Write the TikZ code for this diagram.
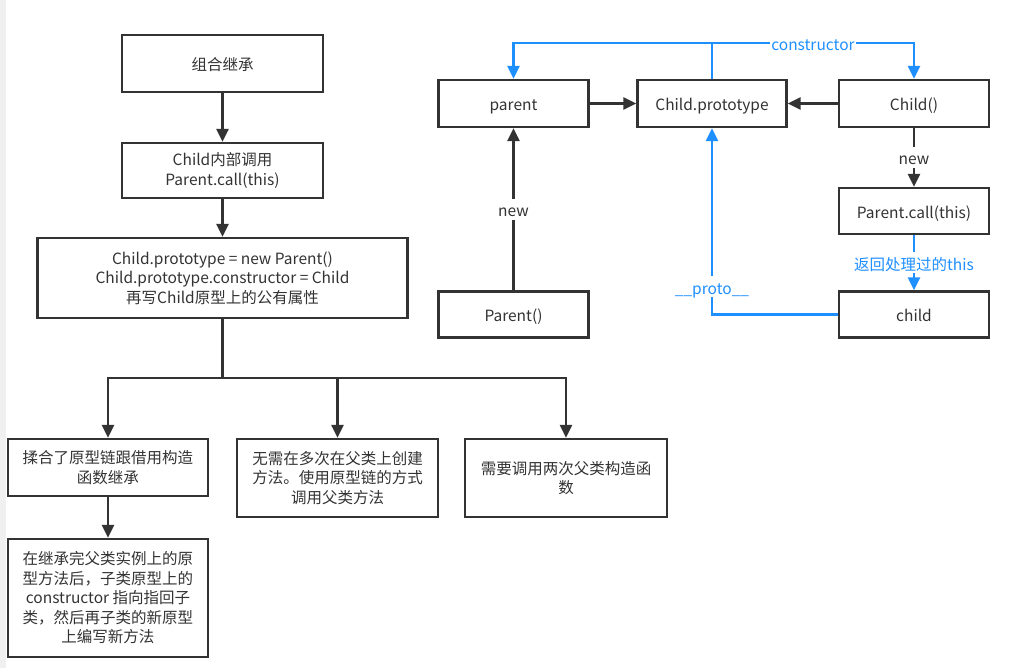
\documentclass[tikz,border=0pt]{standalone}
\usepackage{fontspec}
\setmainfont{Noto Sans CJK SC}
\usetikzlibrary{arrows.meta}
\definecolor{ink}{HTML}{333333}
\definecolor{link}{HTML}{1E8FFF}
\definecolor{sidebar}{HTML}{F0F0F0}
\begin{document}
\begin{tikzpicture}[x=1pt,y=-1pt,
  box/.style={draw=ink, line width=2.3pt, text=ink, inner sep=0pt, align=center,
    font=\fontsize{15.5}{19.5}\selectfont},
  oneline/.style={text height=17pt, text depth=2pt},
  ln/.style={draw=ink, line width=2.3pt},
  arr/.style={ln, -{Triangle[length=13pt,width=12pt]}},
  barr/.style={draw=link, line width=2.3pt, -{Triangle[length=13pt,width=12pt]}},
  bln/.style={draw=link, line width=2.3pt},
  lbl/.style={fill=white, text=ink, inner sep=1pt, oneline, font=\fontsize{15.5}{17}\selectfont},
  blbl/.style={fill=white, text=link, inner sep=1pt, oneline, font=\fontsize{15.5}{17}\selectfont},
]
\useasboundingbox (0,0) rectangle (1018,668);
\fill[sidebar] (0,0) rectangle (6,668);

% left flow
\node[box, oneline, minimum width=201pt, minimum height=57pt] (n1) at (222.5,63.5) {组合继承};
\node[box, minimum width=201pt, minimum height=55pt] (n2) at (222.5,170.5) {Child内部调用\\Parent.call(this)};
\node[box, minimum width=370pt, minimum height=80pt] (n3) at (222.5,278) {Child.prototype = new Parent()\\Child.prototype.constructor = Child\\再写Child原型上的公有属性};
\node[box, minimum width=200pt, minimum height=57pt] (b1) at (108,467.5) {揉合了原型链跟借用构造\\函数继承};
\node[box, minimum width=201pt, minimum height=78pt] (b2) at (337.5,478) {无需在多次在父类上创建\\方法。使用原型链的方式\\调用父类方法};
\node[box, minimum width=202pt, minimum height=78pt] (b3) at (566,478) {需要调用两次父类构造函\\数};
\node[box, minimum width=200pt, minimum height=118pt] (b4) at (108,598) {在继承完父类实例上的原\\型方法后，子类原型上的\\constructor 指向指回子\\类，然后再子类的新原型\\上编写新方法};

\draw[arr] (n1) -- (n2);
\draw[arr] (n2) -- (n3);
\coordinate (fork) at (222.5,378);
\draw[ln] (n3.south) -- (fork);
\draw[arr] (fork) -| (b1.north);
\draw[arr] (fork) -| (b2.north);
\draw[arr] (fork) -| (b3.north);
\draw[arr] (b1) -- (b4);

% prototype chain
\node[box, oneline, minimum width=150pt, minimum height=47pt] (parent) at (513.5,103.5) {parent};
\node[box, oneline, minimum width=149pt, minimum height=47pt] (proto) at (712,103.5) {Child.prototype};
\node[box, oneline, minimum width=150pt, minimum height=47pt] (childf) at (914,103.5) {Child()};
\node[box, oneline, minimum width=150pt, minimum height=46pt] (pcall) at (914,211) {Parent.call(this)};
\node[box, oneline, minimum width=150pt, minimum height=46pt] (child) at (914,314.5) {child};
\node[box, oneline, minimum width=150pt, minimum height=46pt] (Parentf) at (513.5,314.5) {Parent()};

\draw[arr] (parent) -- (proto);
\draw[arr] (childf) -- (proto);
\draw[arr] (Parentf) -- node[lbl] {new} (parent);
\draw[arr] (childf) -- node[lbl] {new} (pcall);
\draw[barr] (pcall) -- node[blbl] {返回处理过的this} (child);

\coordinate (pk) at (712,314.5);
\draw[barr] (child.west) -- (pk) -- node[blbl, pos=0.15] {\_\_proto\_\_} (proto.south);

\coordinate (ctop) at (712,43);
\draw[bln] (proto.north) -- (ctop);
\draw[barr] (ctop) -| (parent.north);
\draw[barr] (ctop) -| node[blbl, pos=0.25] {constructor} (childf.north);
\end{tikzpicture}
\end{document}
